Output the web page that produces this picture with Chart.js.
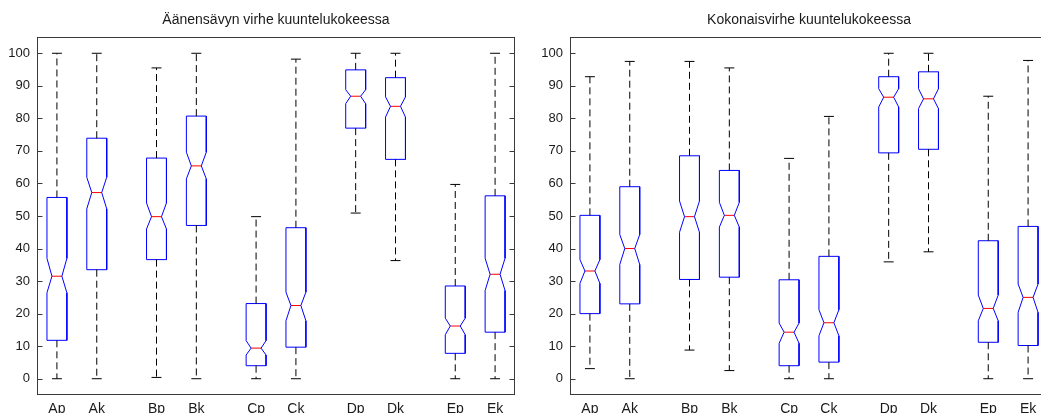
<!DOCTYPE html>
<html>
<head>
<meta charset="utf-8">
<script src="https://cdn.jsdelivr.net/npm/chart.js@4"></script>
<style>
html, body { margin:0; padding:0; width:1041px; height:413px; overflow:hidden; background:#fff; }
canvas { position:absolute; top:0; }
#c1 { left:0; }
#c2 { left:520px; }
</style>
</head>
<body>
<canvas id="c1" width="520" height="413"></canvas>
<canvas id="c2" width="530" height="413"></canvas>
<script>
// ---- data ----
const categories = ['Ap','Ak','Bp','Bk','Cp','Ck','Dp','Dk','Ep','Ek'];
const positions  = [1, 2, 3.5, 4.5, 6, 7, 8.5, 9.5, 11, 12];
const yTicks     = [0,10,20,30,40,50,60,70,80,90,100];

const title1 = 'Äänensävyn virhe kuuntelukokeessa';
const low1     = [0,    0,    0.4,  0,    0,    0,    50.9, 36.3, 0,    0   ];
const q1_1     = [11.8, 33.5, 36.6, 47.1, 4.0,  9.7,  77.0, 67.4, 7.8,  14.3];
const notchLo1 = [26.4, 52.2, 46.0, 61.4, 7.3,  17.8, 84.5, 80.4, 13.5, 27.1];
const median1  = [31.5, 57.2, 49.8, 65.4, 9.4,  22.5, 86.8, 83.7, 16.2, 32.1];
const notchHi1 = [37.0, 61.9, 54.0, 69.6, 11.7, 26.6, 88.8, 86.6, 18.6, 37.0];
const q3_1     = [55.7, 73.9, 67.8, 80.7, 23.1, 46.4, 94.9, 92.5, 28.5, 56.2];
const high1    = [100,  100,  95.5, 100,  49.8, 98.2, 100,  100,  59.7, 100 ];

const title2 = 'Kokonaisvirhe kuuntelukokeessa';
const low2     = [3.1,  0,    8.8,  2.5,  0,    0,    35.9, 39.0, 0,    0   ];
const q1_2     = [20.0, 23.0, 30.5, 31.2, 4.0,  5.1,  69.4, 70.5, 11.2, 10.2];
const notchLo2 = [29.3, 35.1, 45.0, 46.6, 10.9, 13.2, 83.5, 83.0, 17.8, 20.4];
const median2  = [33.1, 40.0, 49.8, 50.2, 14.3, 17.2, 86.5, 86.0, 21.6, 25.0];
const notchHi2 = [36.6, 44.3, 54.6, 54.2, 17.1, 21.2, 89.1, 89.1, 25.7, 29.1];
const q3_2     = [50.2, 59.0, 68.5, 64.0, 30.4, 37.6, 92.8, 94.3, 42.4, 46.8];
const high2    = [92.8, 97.5, 97.5, 95.5, 67.7, 80.6, 100,  100,  86.8, 97.8];

// ---- builders ----
const BOX_HALF = 0.25, NOTCH_HALF = 0.125, CAP_HALF = 0.125;

function lineDs(points, color, dash) {
  return {
    data: points, showLine: true, fill: false, tension: 0,
    borderColor: color, borderWidth: 1, borderDash: dash || [],
    pointRadius: 0, pointHoverRadius: 0
  };
}

function buildDatasets(low, q1, nlo, med, nhi, q3, high) {
  const ds = [];
  positions.forEach((x, i) => {
    // whiskers (dashed)
    ds.push(lineDs([{x, y: q3[i]}, {x, y: high[i]}], '#000', [7,4]));
    ds.push(lineDs([{x, y: q1[i]}, {x, y: low[i]}], '#000', [7,4]));
    // caps
    ds.push(lineDs([{x: x-CAP_HALF, y: high[i]}, {x: x+CAP_HALF, y: high[i]}], '#000'));
    ds.push(lineDs([{x: x-CAP_HALF, y: low[i]}, {x: x+CAP_HALF, y: low[i]}], '#000'));
    // notched box
    const L = x - BOX_HALF, R = x + BOX_HALF, NL = x - NOTCH_HALF, NR = x + NOTCH_HALF;
    ds.push(lineDs([
      {x: L, y: q1[i]}, {x: L, y: nlo[i]}, {x: NL, y: med[i]}, {x: L, y: nhi[i]}, {x: L, y: q3[i]},
      {x: R, y: q3[i]}, {x: R, y: nhi[i]}, {x: NR, y: med[i]}, {x: R, y: nlo[i]}, {x: R, y: q1[i]},
      {x: L, y: q1[i]}
    ], '#0000ff'));
    // median
    ds.push(lineDs([{x: NL, y: med[i]}, {x: NR, y: med[i]}], '#ff0000'));
  });
  return ds;
}

const framePlugin = {
  id: 'frame',
  afterDraw(chart) {
    const {ctx, chartArea: a, scales} = chart;
    ctx.save();
    ctx.strokeStyle = '#3a3a3a';
    ctx.lineWidth = 1;
    const l = Math.round(a.left) + 0.5, r = Math.round(a.right) - 0.5;
    const t = Math.round(a.top) + 0.5, b = Math.round(a.bottom) - 0.5;
    ctx.strokeRect(l, t, r - l, b - t);
    ctx.beginPath();
    yTicks.forEach(v => {
      const y = Math.round(scales.y.getPixelForValue(v)) + 0.5;
      ctx.moveTo(l, y); ctx.lineTo(l + 5, y);
      ctx.moveTo(r, y); ctx.lineTo(r - 5, y);
    });
    ctx.stroke();
    ctx.restore();
  }
};

function makeChart(id, title, data, yWidth, padRight) {
  return new Chart(document.getElementById(id), {
    type: 'scatter',
    data: { datasets: buildDatasets(...data) },
    plugins: [framePlugin],
    options: {
      responsive: false, animation: false, devicePixelRatio: 1,
      layout: { padding: { left: 0, right: padRight, top: 0, bottom: 0 } },
      plugins: {
        legend: { display: false },
        tooltip: { enabled: false },
        title: {
          display: true, text: title, fullSize: false,
          color: '#1a1a1a',
          font: { family: '"Liberation Sans", Arial, sans-serif', size: 14, weight: 'normal', lineHeight: 1.2 },
          padding: { top: 12, bottom: 8.2 }
        }
      },
      scales: {
        x: {
          type: 'linear', min: 0.5, max: 12.5,
          grid: { display: false, drawTicks: false },
          border: { display: false },
          afterBuildTicks: s => { s.ticks = positions.map(v => ({ value: v })); },
          afterFit: s => { s.height = 18; },
          ticks: {
            autoSkip: false, maxRotation: 0, padding: 6,
            color: '#1a1a1a',
            font: { family: '"Liberation Sans", Arial, sans-serif', size: 14 },
            callback: (v, i) => categories[i]
          }
        },
        y: {
          type: 'linear', min: -5, max: 105,
          grid: { display: false, drawTicks: false },
          border: { display: false },
          afterBuildTicks: s => { s.ticks = yTicks.map(v => ({ value: v })); },
          afterFit: s => { s.width = yWidth; },
          ticks: {
            padding: 7, color: '#1a1a1a',
            font: { family: '"Liberation Sans", Arial, sans-serif', size: 13 }
          }
        }
      }
    }
  });
}

makeChart('c1', title1, [low1, q1_1, notchLo1, median1, notchHi1, q3_1, high1], 37, 5);
makeChart('c2', title2, [low2, q1_2, notchLo2, median2, notchHi2, q3_2, high2], 50, 2);
</script>
</body>
</html>
